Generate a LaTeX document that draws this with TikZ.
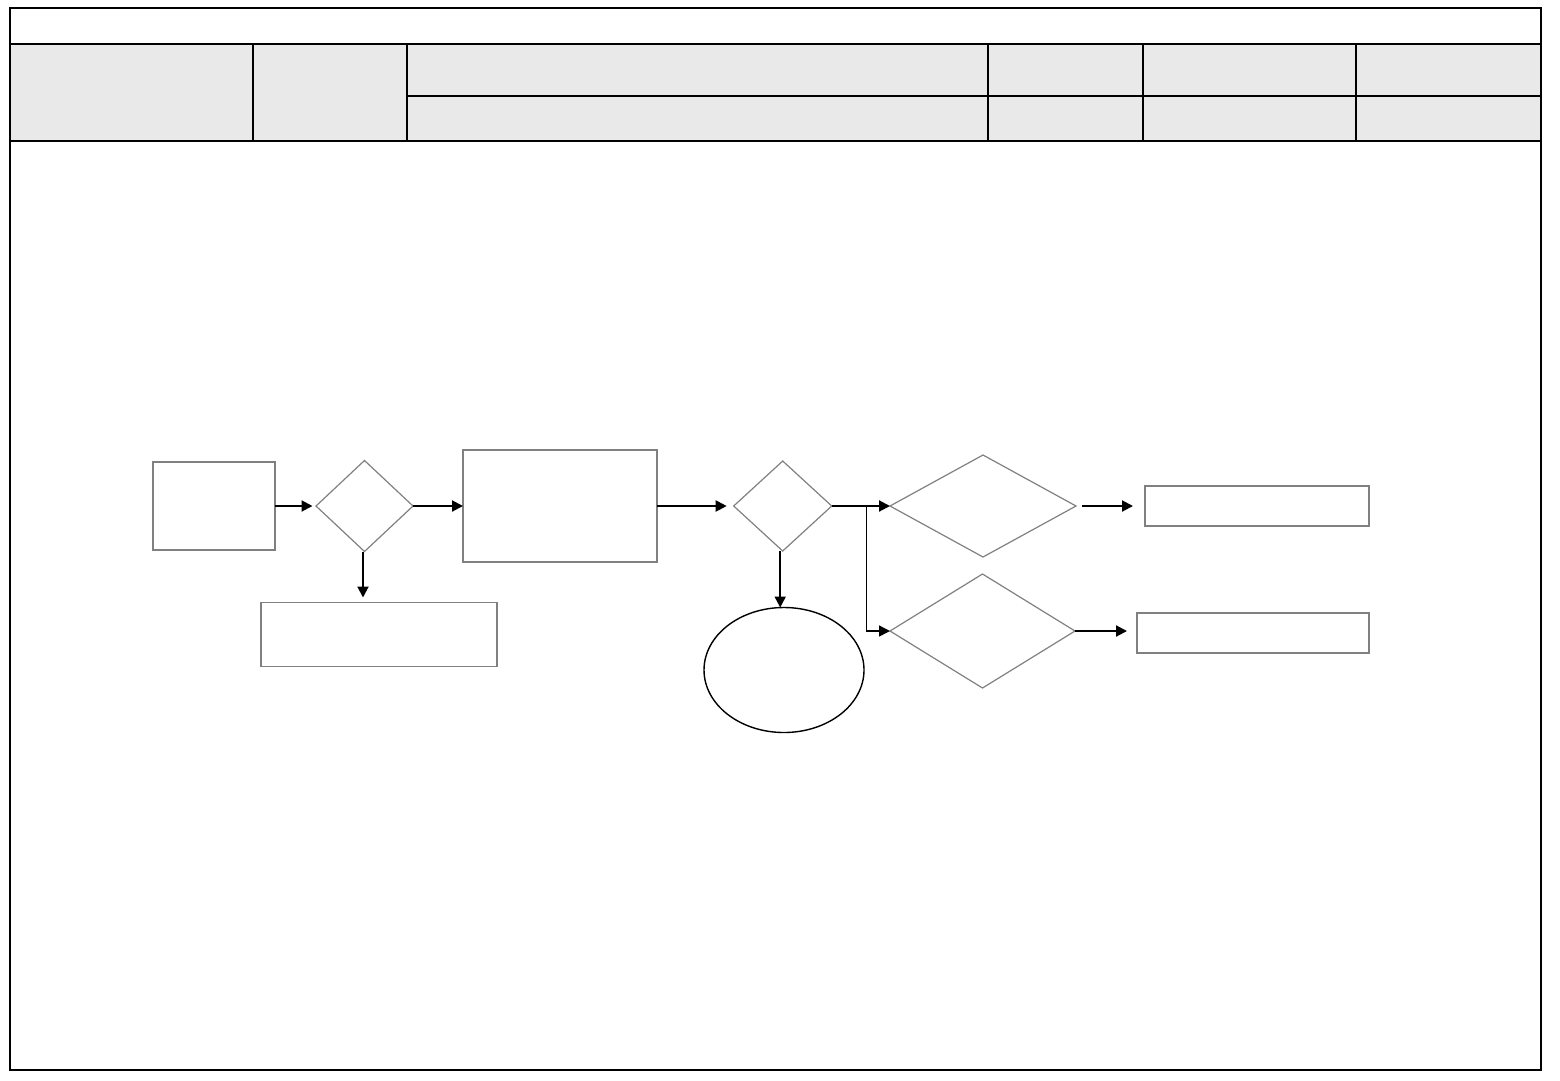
\documentclass[tikz,border=0pt]{standalone}
\usetikzlibrary{shapes.geometric,arrows.meta}
\definecolor{hdrgrey}{RGB}{233,233,233}
\definecolor{boxgrey}{RGB}{128,128,128}
\tikzset{
  frameline/.style={line width=2.5pt,black},
  procbox/.style={draw=boxgrey,line width=1.6pt,rectangle,inner sep=0pt,outer sep=0pt,fill=white},
  decide/.style={draw=boxgrey,line width=1.2pt,diamond,inner sep=0pt,outer sep=0pt},
  term/.style={draw=black,line width=1.4pt,ellipse,inner sep=0pt,outer sep=0pt},
  flow/.style={line width=2pt,-{Triangle[length=11pt,width=11pt]}},
  thinflow/.style={line width=1.4pt,-{Triangle[length=11pt,width=11pt]}}
}
\begin{document}
\begin{tikzpicture}[x=1pt,y=-1pt]
\useasboundingbox (0,0) rectangle (1560,1080);
% header
\fill[hdrgrey] (10,44) rectangle (1541,141);
\draw[frameline] (10,8) rectangle (1541,1070);
\draw[frameline] (10,44) -- (1541,44);
\draw[frameline] (10,141) -- (1541,141);
\draw[line width=2pt] (407,96) -- (1541,96);
\foreach \x in {253,407,988,1143,1356} \draw[line width=2.2pt] (\x,44) -- (\x,141);
% nodes
\node[procbox,minimum width=122pt,minimum height=88pt] (b1) at (214,506) {};
\node[decide,minimum width=97pt,minimum height=91pt] (d1) at (364.5,506) {};
\node[procbox,minimum width=236pt,minimum height=64pt,line width=1.2pt] (b3) at (379,634.5) {};
\node[procbox,minimum width=194pt,minimum height=112pt] (b2) at (560,506) {};
\node[decide,minimum width=98pt,minimum height=90pt] (d2) at (782.7,506) {};
\node[term,minimum width=160pt,minimum height=125pt] (e1) at (784,670) {};
\node[decide,minimum width=186pt,minimum height=102pt] (d3) at (983,506) {};
\node[decide,minimum width=185pt,minimum height=114pt] (d4) at (982.5,631) {};
\node[procbox,minimum width=224pt,minimum height=40pt] (b4) at (1257,506) {};
\node[procbox,minimum width=232pt,minimum height=40pt,line width=1.2pt] (b5) at (1253,633) {};
\coordinate (br) at (866.7,506);
% connectors
\draw[flow,shorten >=3.5pt] (b1.east) -- (d1.west);
\draw[flow] (d1.east) -- (b2.west);
\draw[flow,shorten >=5pt] ([xshift=-1.5pt]d1.south) -- ([xshift=-1.5pt]d1.south |- b3.north);
\draw[flow,shorten >=7pt] (b2.east) -- (d2.west);
\draw[flow] ([xshift=-2.5pt]d2.south) -- ([xshift=-2.5pt]d2.south |- e1.north);
\draw[flow] (d2.east) -- (d3.west);
\draw[thinflow] (br) |- (d4.west);
\draw[flow,shorten <=6pt,shorten >=12pt] (d3.east) -- (b4.west);
\draw[flow,shorten >=10pt] (d4.east) -- (d4.east -| b5.west);
\end{tikzpicture}
\end{document}
